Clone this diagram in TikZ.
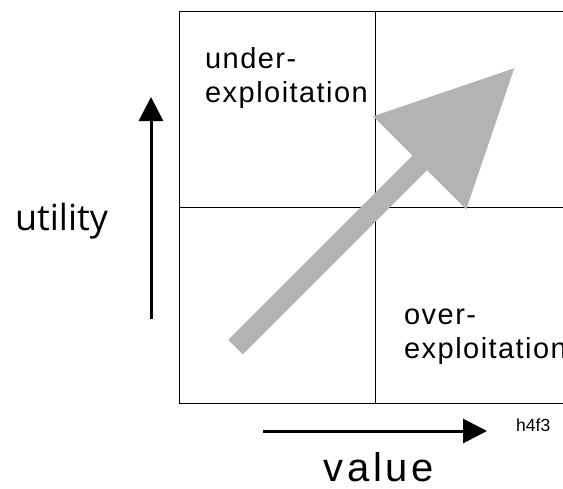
\documentclass[tikz,border=0pt]{standalone}
\usepackage{fontspec}
\setmainfont{Liberation Sans}
\newfontfamily\spacedfont[LetterSpace=5]{Liberation Sans}
\newfontfamily\valuefont[LetterSpace=9]{Liberation Sans}
\newfontfamily\utilfont{Open Sans}
\usetikzlibrary{arrows.meta}
\definecolor{arrowgray}{RGB}{179,179,179}
\begin{document}
\begin{tikzpicture}[x=1pt,y=-1pt,
  gridline/.style={draw=black,line width=1pt},
  axisarrow/.style={draw=black,line width=3pt,-{Triangle[width=24pt,length=24pt]}},
  qlabel/.style={anchor=base west,inner sep=0pt,font=\spacedfont\fontsize{29}{33}\selectfont},
  biglabel/.style={anchor=base,inner sep=0pt},
  bigarrow/.style={fill=arrowgray,draw=none}]
\fill[white] (0,0) rectangle (563,488);
\useasboundingbox (0,0) rectangle (563,488);
% grid
\coordinate (tl) at (179,11);
\coordinate (tr) at (563,11);
\coordinate (bl) at (179,403);
\coordinate (br) at (563,403);
\coordinate (mt) at (375,11);
\coordinate (mb) at (375,403);
\coordinate (ml) at (179,207);
\coordinate (mr) at (563,207);
\draw[gridline] (tr) -- (tl) -- (bl) -- (br);
\draw[gridline] (mt) -- (mb);
\draw[gridline] (ml) -- (mr);
% quadrant labels
\node[qlabel] (u1) at (205,68) {under-};
\node[qlabel] (u2) at (205,102) {exploitation};
\node[qlabel] (o1) at (404,324) {over-};
\node[qlabel] (o2) at (404,358) {exploitation};
% big gray arrow
\coordinate (s1) at (228.25,339.75);
\coordinate (j1) at (412.5,155.5);
\coordinate (b1) at (373.25,116.25);
\coordinate (tip) at (514.25,68.25);
\coordinate (b2) at (466.25,209.25);
\coordinate (j2) at (427,170);
\coordinate (s2) at (242.75,354.25);
\fill[bigarrow] (s1) -- (j1) -- (b1) -- (tip) -- (b2) -- (j2) -- (s2) -- cycle;
% axes
\coordinate (ub) at (151,319);
\coordinate (ut) at (151,97);
\draw[axisarrow] (ub) -- (ut);
\coordinate (vl) at (263,431);
\coordinate (vr) at (487,431);
\draw[axisarrow] (vl) -- (vr);
% axis labels
\node[biglabel,font=\utilfont\fontsize{36}{40}\selectfont] (utility) at (61.5,230) {utility};
\node[biglabel,font=\valuefont\fontsize{40}{44}\selectfont] (value) at (379,481) {value};
\node[anchor=base west,inner sep=0pt,font=\fontsize{17.5}{20}\selectfont] (code) at (516,431) {h4f3};
\end{tikzpicture}
\end{document}
